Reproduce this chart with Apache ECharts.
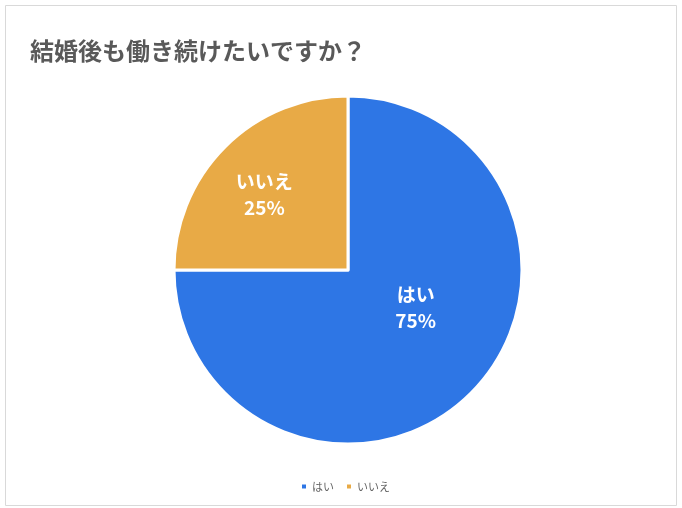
<!DOCTYPE html>
<html>
<head>
<meta charset="utf-8">
<script src="https://cdn.jsdelivr.net/npm/echarts@6/dist/echarts.min.js"></script>
<style>
html,body{margin:0;padding:0;background:#fff;}
#chart{width:682px;height:508px;}
</style>
</head>
<body>
<div id="chart"></div>
<script>
const titleText = '結婚後も働き続けたいですか？';
const categories = ['はい', 'いいえ'];
const values = [75, 25];
const colors = ['#2e76e5', '#e8aa46'];

const labelShift = [[4, -26], [-20, -12]];

const chart = echarts.init(document.getElementById('chart'));
const font = '"Noto Sans CJK JP", "Noto Sans", sans-serif';
chart.setOption({
  animation: false,
  backgroundColor: '#ffffff',
  textStyle: { fontFamily: font },
  title: {
    text: titleText,
    left: 25,
    top: 34,
    textStyle: { fontSize: 24, fontWeight: 'bold', color: '#595959', fontFamily: font }
  },
  graphic: [{
    type: 'rect',
    shape: { x: 5.5, y: 5.5, width: 671, height: 500 },
    style: { fill: 'none', stroke: '#d9d9d9', lineWidth: 1 },
    silent: true
  }],
  legend: {
    data: categories,
    left: 300,
    top: 481,
    padding: 0,
    icon: 'rect',
    itemWidth: 6,
    itemHeight: 6,
    itemGap: 11,
    textStyle: { fontSize: 11, color: '#666666', fontFamily: font }
  },
  series: [{
    type: 'pie',
    center: [348, 270],
    radius: 174,
    startAngle: 90,
    clockwise: true,
    data: categories.map((c, i) => ({ name: c, value: values[i], itemStyle: { color: colors[i] } })),
    itemStyle: { borderColor: '#ffffff', borderWidth: 3 },
    label: {
      show: true,
      position: 'inside',
      formatter: '{b}\n{d}%',
      color: '#ffffff',
      fontSize: 19,
      fontWeight: 'bold',
      lineHeight: 26,
      fontFamily: font
    },
    labelLine: { show: false },
    labelLayout: function (p) {
      const s = labelShift[p.dataIndex];
      return { dx: s[0], dy: s[1] };
    },
    emphasis: { disabled: true }
  }]
});
</script>
</body>
</html>
